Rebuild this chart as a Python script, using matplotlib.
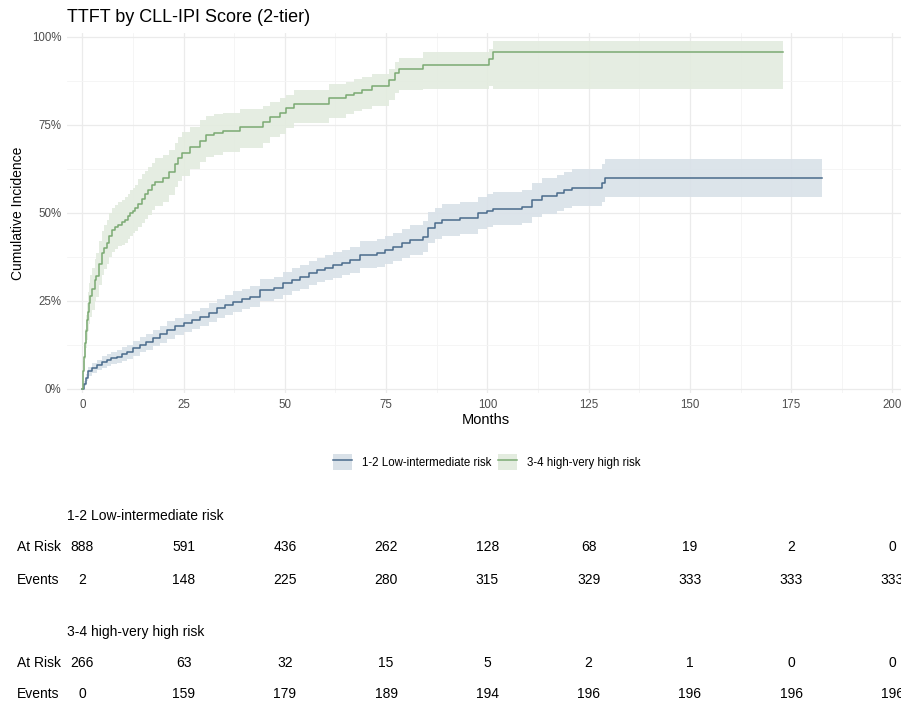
import matplotlib
matplotlib.use("Agg")
import matplotlib.pyplot as plt
import matplotlib.transforms as mtransforms
import numpy as np
from matplotlib.lines import Line2D
from matplotlib.patches import Patch
from matplotlib.ticker import FuncFormatter, MultipleLocator

plt.rcParams["font.family"] = ["Liberation Sans", "DejaVu Sans"]

# ---- data (months, cumulative incidence in %) ----
low_label = "1-2 Low-intermediate risk"
high_label = "3-4 high-very high risk"

low_time = [0, 0.3, 0.8, 1.5, 2.5, 3.6, 4.8, 6, 7.2, 8.5, 9.7, 11, 12.5, 14.2,
            15.8, 17.5, 19.2, 20.8, 22.8, 25, 27, 29.1, 31.2, 33.2, 35.3, 37.3,
            39.4, 41.4, 43.9, 47.2, 49.6, 51.7, 53.8, 55.9, 57.9, 60, 62, 64,
            66.1, 68.6, 72.7, 74.8, 76.8, 78.8, 80.9, 84.2, 85.4, 87, 88.7,
            93.3, 97.8, 99.9, 101.5, 108.5, 111, 113.4, 117.1, 118.8, 120.8,
            128.2, 129, 182.6]
low_est = [0, 1.5, 3.2, 5.0, 6.0, 6.8, 7.6, 8.2, 8.8, 9.2, 9.9, 10.6, 11.6, 12.5,
           13.4, 14.4, 15.6, 16.8, 17.8, 18.7, 19.6, 20.5, 21.7, 22.9, 23.9, 24.8,
           25.5, 26.2, 28.1, 28.6, 30.0, 31.0, 31.9, 32.9, 33.8, 34.5, 35.2, 35.9,
           36.6, 38.1, 38.6, 39.5, 40.4, 41.4, 42.3, 43.3, 45.8, 47.0, 48.0,
           48.5, 49.9, 50.6, 51.2, 51.8, 53.7, 54.8, 55.6, 56.5, 57.2,
           58.4, 60.0, 60.0]
low_lower = [0, 0.8, 2.2, 3.8, 4.6, 5.3, 6.0, 6.5, 7.0, 7.4, 8.0, 8.6, 9.5, 10.4,
             11.2, 12.1, 13.2, 14.3, 15.3, 16.3, 17.1, 18.0, 19.1, 20.2, 21.1, 22.0,
             22.6, 23.3, 25.0, 25.5, 26.8, 27.7, 28.5, 29.4, 30.3, 31.0, 31.6, 32.3,
             32.9, 34.3, 34.7, 35.5, 36.4, 37.3, 38.1, 39.0, 41.4, 42.5, 43.5,
             44.0, 45.3, 46.0, 46.5, 47.0, 48.8, 49.8, 50.5, 51.3, 52.0,
             53.0, 54.4, 54.4]
low_upper = [0, 2.2, 4.3, 6.3, 7.4, 8.3, 9.3, 10.0, 10.6, 11.1, 11.9, 12.6, 13.7, 14.7,
             15.6, 16.7, 18.0, 19.2, 20.3, 21.2, 22.1, 23.1, 24.3, 25.6, 26.7, 27.7,
             28.4, 29.2, 31.2, 31.7, 33.2, 34.3, 35.3, 36.4, 37.3, 38.1, 38.8, 39.6,
             40.3, 41.9, 42.5, 43.4, 44.4, 45.5, 46.5, 47.6, 50.2, 51.4, 52.5,
             53.0, 54.5, 55.3, 56.0, 56.6, 58.6, 59.8, 60.7, 61.6, 62.4,
             63.8, 65.3, 65.3]

high_time = [0, 0.25, 0.5, 0.75, 1, 1.25, 1.5, 1.75, 2, 2.5, 3.1, 3.5, 4.2, 4.8,
             5.4, 6, 6.7, 7.3, 8.1, 8.9, 9.7, 10.5, 11.2, 11.8, 12.4, 13, 13.8,
             14.7, 15.5, 16.3, 17.2, 18, 20, 21.3, 22.8, 23.7, 24.5, 26.6, 29.1,
             30.5, 32.4, 34.8, 38.9, 44.7, 46.3, 48.8, 50.4, 52.3, 60.8, 65, 67,
             69, 71.4, 75.8, 77.2, 78.2, 84.1, 100.5, 101.5, 172.9]
high_est = [0, 5, 9, 13, 16.5, 19.5, 22, 24.5, 26.5, 28.5, 31, 32, 35.5, 38.5,
            40, 41.4, 43.5, 45.2, 46, 46.6, 47.3, 48, 49, 49.9, 50.6, 51.3, 52.5,
            54, 55.3, 56.5, 57.8, 58.9, 60, 61.7, 64, 65.5, 67, 68.8, 70.5,
            72, 72.6, 73.2, 74.5, 75.9, 77.2, 78.3, 79.7, 81, 82.6, 83.5, 84.2,
            84.9, 86, 87.7, 89.8, 90.8, 92, 93.7, 95.8, 95.8]
high_lower = [0, 2.5, 5.5, 8.5, 11.5, 14, 16.5, 18.5, 20.5, 22.5, 25, 26, 29.5, 32.5,
              34, 35.5, 37.5, 39, 39.8, 40.5, 41, 41.5, 42.5, 43.5, 44.2, 45, 46,
              47, 48.3, 49.5, 50.8, 52, 53, 55, 57.5, 59, 60.5, 62.5, 64.5,
              66, 66.5, 67.2, 68.5, 70, 71.5, 72.5, 74, 75.5, 77, 78, 79,
              79.5, 80.5, 82, 84, 85, 85.2, 86, 85.3, 85.3]
high_upper = [0, 8, 12.5, 17, 21, 24.5, 27.5, 30, 32.5, 34.5, 37, 38.5, 42, 45,
              46.5, 48, 50, 51.5, 52.3, 53, 53.8, 54.5, 55.5, 56.5, 57.2, 58, 59.5,
              61, 62, 63, 64.3, 65.5, 66.5, 68, 70, 71.5, 73, 74.5, 76.5,
              77.5, 78, 78.5, 79.5, 80.5, 81.5, 82.5, 83.5, 85, 86.5, 87.2, 88,
              88.5, 89.5, 91, 93, 94, 95.7, 96.5, 98.9, 98.9]

table_months = [0, 25, 50, 75, 100, 125, 150, 175, 200]
low_at_risk = [888, 591, 436, 262, 128, 68, 19, 2, 0]
low_events = [2, 148, 225, 280, 315, 329, 333, 333, 333]
high_at_risk = [266, 63, 32, 15, 5, 2, 1, 0, 0]
high_events = [0, 159, 179, 189, 194, 196, 196, 196, 196]

LOW_LINE, LOW_FILL = "#4A6B8C", "#D9E1E8"
HIGH_LINE, HIGH_FILL = "#7BAA73", "#E3ECDF"

W, H = 901, 704
fig = plt.figure(figsize=(W / 100, H / 100), dpi=100)
ax = fig.add_axes([67 / W, 1 - 393 / H, 838 / W, 360 / H])

for t, est, lo, hi, lc, fc in [
    (low_time, low_est, low_lower, low_upper, LOW_LINE, LOW_FILL),
    (high_time, high_est, high_lower, high_upper, HIGH_LINE, HIGH_FILL),
]:
    t = np.asarray(t)
    ax.fill_between(t, np.asarray(lo) / 100, np.asarray(hi) / 100, step="post",
                    color=fc, lw=0, alpha=0.9, zorder=2)
    ax.step(t, np.asarray(est) / 100, where="post", color=lc, lw=1.1, zorder=3)

ax.set_xlim(-3.78, 203.1)
ax.set_ylim(-0.0114, 1.011)
ax.xaxis.set_major_locator(MultipleLocator(25))
ax.xaxis.set_minor_locator(MultipleLocator(12.5))
ax.yaxis.set_major_locator(MultipleLocator(0.25))
ax.yaxis.set_minor_locator(MultipleLocator(0.125))
ax.yaxis.set_major_formatter(FuncFormatter(lambda v, _: f"{v * 100:.0f}%"))
ax.grid(which="major", color="#EBEBEB", lw=0.9, zorder=0)
ax.grid(which="minor", color="#F4F4F4", lw=0.6, zorder=0)
ax.set_axisbelow(True)
for s in ax.spines.values():
    s.set_visible(False)
ax.tick_params(which="both", length=0, labelsize=8.3, labelcolor="#4D4D4D", pad=4)

ax.set_xlabel("Months", fontsize=10.5, labelpad=2)
ax.set_ylabel("Cumulative Incidence", fontsize=10, labelpad=5)
fig.text(67 / W, 1 - 17 / H, "TTFT by CLL-IPI Score (2-tier)", fontsize=13,
         ha="left", va="center")

handles = [(Patch(facecolor=LOW_FILL, edgecolor="none"), Line2D([], [], color=LOW_LINE, lw=1.1)),
           (Patch(facecolor=HIGH_FILL, edgecolor="none"), Line2D([], [], color=HIGH_LINE, lw=1.1))]
fig.legend(handles, [low_label, high_label], loc="center",
           bbox_to_anchor=(487 / W, 1 - 462 / H), ncol=2, frameon=False,
           fontsize=8.3, handlelength=1.65, handleheight=1.7, handletextpad=0.85,
           columnspacing=0.6)

# risk table below the plot, columns aligned with the month axis
narrow = ["Liberation Sans Narrow", "Liberation Sans"]
trans = mtransforms.blended_transform_factory(ax.transData, fig.transFigure)
rows = [
    (low_label, 516, [("At Risk", 547, low_at_risk), ("Events", 580, low_events)]),
    (high_label, 632, [("At Risk", 663, high_at_risk), ("Events", 694, high_events)]),
]
for title, ty, lines in rows:
    fig.text(67 / W, 1 - ty / H, title, fontsize=10, family=narrow, ha="left", va="center")
    for name, y, vals in lines:
        fig.text(17 / W, 1 - y / H, name, fontsize=10, family=narrow, ha="left", va="center")
        for m, v in zip(table_months, vals):
            ax.text(m, 1 - y / H, str(v), transform=trans, fontsize=10, family=narrow,
                    ha="center", va="center", clip_on=False)

fig.savefig("out.png", dpi=100)
